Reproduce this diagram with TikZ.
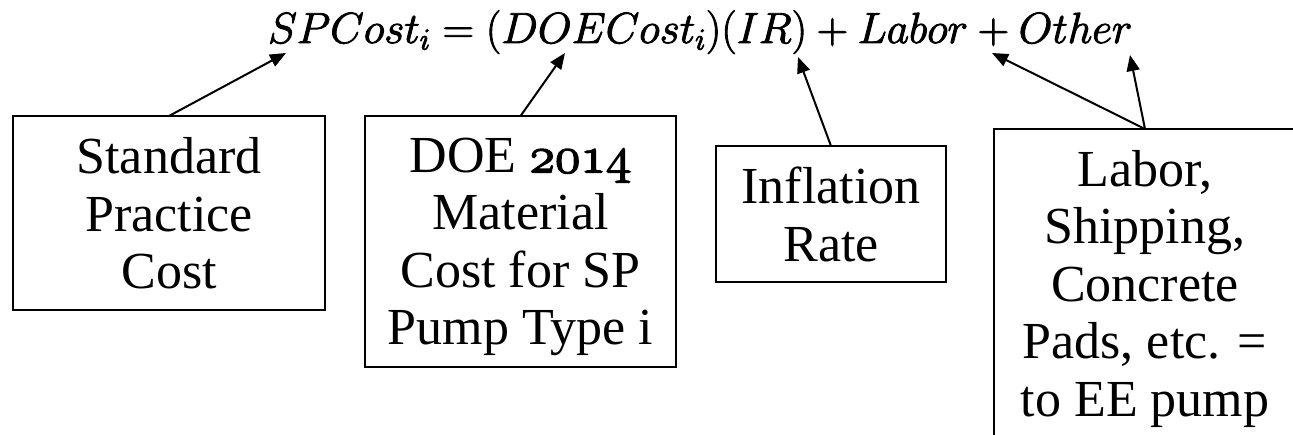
\RequirePackage{fix-cm}
\documentclass[tikz,border=0pt]{standalone}
\usepackage[no-math]{fontspec}
\setmainfont{Liberation Serif}
\usetikzlibrary{arrows.meta}

% glyphs filled and stroked with a thin outline, to give the light
% Computer Modern shapes the weight of the surrounding text
\newcommand{\heavier}[2]{\special{pdf:literal direct 2 Tr #1 w}#2\special{pdf:literal direct 0 Tr}}

% old-style figures from the math italic font
\newcommand{\osfig}[1]{{\fontencoding{OML}\fontfamily{cmm}\fontseries{m}\fontshape{it}\selectfont
  \heavier{1.4}{#1}}}

\tikzset{
  costbox/.style={draw, line width=2.8pt, inner sep=0pt, outer sep=0pt,
    align=center, text depth=0pt,
    font=\fontsize{52}{57.5}\selectfont},
  eqtext/.style={inner sep=0pt, font=\fontsize{43.5}{50}\selectfont},
  pointer/.style={line width=2pt, -{Triangle[length=16pt,width=13pt]}}
}

\begin{document}
\begin{tikzpicture}[x=1pt, y=-1pt]
  \useasboundingbox (0,0) rectangle (1293,435);
  \clip (0,0) rectangle (1293,435);

  % the cost equation
  \node[eqtext, anchor=base west] (eq) at (268,43)
    {\heavier{0.9}{$SPCost_i = (DOECost_i)(IR) + Labor + Other$}};

  % points of the equation that the pointers reach
  \coordinate (tS)  at (286,53);
  \coordinate (tO)  at (565,53);
  \coordinate (tR)  at (798,57);
  \coordinate (tL)  at (992,53);
  \coordinate (tOt) at (1130,55);

  % explanatory boxes
  \node[costbox, minimum width=312pt, minimum height=194pt] (sp) at (169,213)
    {Standard\\Practice\\Cost};
  \node[costbox, minimum width=311pt, minimum height=251pt] (doe) at (520.5,241.5)
    {DOE \osfig{2014}\\Material\\Cost for SP\\Pump Type i};
  \node[costbox, minimum width=230pt, minimum height=136pt] (ir) at (831,214)
    {Inflation\\Rate};
  \node[costbox, minimum width=302pt, minimum height=308pt] (oth) at (1145,283)
    {Labor,\\Shipping,\\Concrete\\Pads, etc. =\\to EE pump};

  % pointers from each box to its term
  \draw[pointer] (sp.north)  -- (tS);
  \draw[pointer] (doe.north) -- (tO);
  \draw[pointer] (ir.north)  -- (tR);
  \draw[pointer] (oth.north) -- (tL);
  \draw[pointer] (oth.north) -- (tOt);
\end{tikzpicture}
\end{document}
